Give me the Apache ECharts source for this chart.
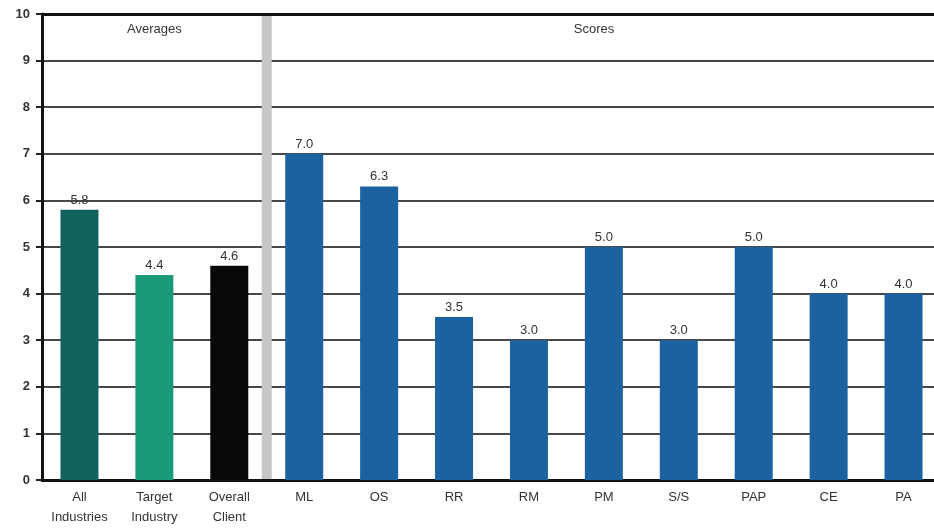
<!DOCTYPE html>
<html>
<head>
<meta charset="utf-8">
<script src="https://cdn.jsdelivr.net/npm/echarts@6/dist/echarts.min.js"></script>
<style>
  html, body { margin: 0; padding: 0; background: #fff; overflow: hidden; }
  #chart { width: 941px; height: 529px; }
</style>
</head>
<body>
<div id="chart"></div>
<script>
// Categories along the bottom axis (averages first, then the individual scores)
const categories = ['All\nIndustries', 'Target\nIndustry', 'Overall\nClient',
  'ML', 'OS', 'RR', 'RM', 'PM', 'S/S', 'PAP', 'CE', 'PA'];
// Bar values, as printed above each bar
const values = [5.8, 4.4, 4.6, 7.0, 6.3, 3.5, 3.0, 5.0, 3.0, 5.0, 4.0, 4.0];
// Fill colour for each bar
const barColors = ['#11625d', '#1a9a78', '#060809',
  '#1c62a0', '#1c62a0', '#1c62a0', '#1c62a0', '#1c62a0', '#1c62a0', '#1c62a0', '#1c62a0', '#1c62a0'];
// Value axis tick labels
const yTicks = [0, 1, 2, 3, 4, 5, 6, 7, 8, 9, 10];
// Section headings
const sectionTitles = ['Averages', 'Scores'];

const FONT = '"Liberation Sans Narrow", "Liberation Sans", Arial, sans-serif';

const chart = echarts.init(document.getElementById('chart'), null, { renderer: 'canvas' });

chart.setOption({
  animation: false,
  backgroundColor: '#ffffff',
  grid: { left: 42, right: 0, top: 14, bottom: 49, containLabel: false },
  xAxis: {
    type: 'category',
    data: categories,
    axisLine: { show: true, lineStyle: { color: '#111', width: 3 } },
    axisTick: { show: false },
    axisLabel: {
      interval: 0, color: '#333', fontFamily: FONT, fontSize: 13,
      lineHeight: 20, margin: 7
    }
  },
  yAxis: {
    type: 'value',
    min: yTicks[0],
    max: yTicks[yTicks.length - 1],
    interval: 1,
    axisLine: { show: true, lineStyle: { color: '#111', width: 3 } },
    axisTick: { show: true, length: 6, lineStyle: { color: '#222', width: 2 } },
    axisLabel: { color: '#333', fontFamily: FONT, fontSize: 13, fontWeight: 'bold', margin: 12 },
    splitLine: { show: true, lineStyle: { color: '#484848', width: 2 } }
  },
  series: [{
    type: 'bar',
    data: values.map((v, i) => ({ value: v, itemStyle: { color: barColors[i] } })),
    barWidth: 38,
    label: {
      show: true, position: 'top', distance: 3,
      color: '#333', fontFamily: FONT, fontSize: 13,
      formatter: p => p.value.toFixed(1)
    },
    z: 3
  }, {
    // Heavier top border at the axis maximum
    type: 'line',
    data: [],
    markLine: {
      silent: true, symbol: 'none', label: { show: false },
      lineStyle: { color: '#111', width: 3, type: 'solid' },
      data: [{ yAxis: yTicks[yTicks.length - 1] }]
    }
  }]
});

// Grey divider between the averages and the scores, plus section headings
function drawOverlay() {
  const left = chart.convertToPixel({ xAxisIndex: 0 }, categories[2]);
  const right = chart.convertToPixel({ xAxisIndex: 0 }, categories[3]);
  const top = chart.convertToPixel({ yAxisIndex: 0 }, yTicks[yTicks.length - 1]);
  const bottom = chart.convertToPixel({ yAxisIndex: 0 }, yTicks[0]);
  const mid = (left + right) / 2;
  const avgX = chart.convertToPixel({ xAxisIndex: 0 }, categories[1]);
  const scoreX = 594;
  chart.setOption({
    graphic: [
      {
        type: 'rect', z: 1,
        shape: { x: mid - 5, y: top + 1, width: 10, height: bottom - top - 2 },
        style: { fill: '#c6c6c6' }
      },
      {
        type: 'text', z: 5, x: avgX, y: top + 15,
        style: { text: sectionTitles[0], fill: '#333', font: '13px ' + FONT,
          textAlign: 'center', textVerticalAlign: 'middle' }
      },
      {
        type: 'text', z: 5, x: scoreX, y: top + 15,
        style: { text: sectionTitles[1], fill: '#333', font: '13px ' + FONT,
          textAlign: 'center', textVerticalAlign: 'middle' }
      }
    ]
  });
}
drawOverlay();
</script>
</body>
</html>
